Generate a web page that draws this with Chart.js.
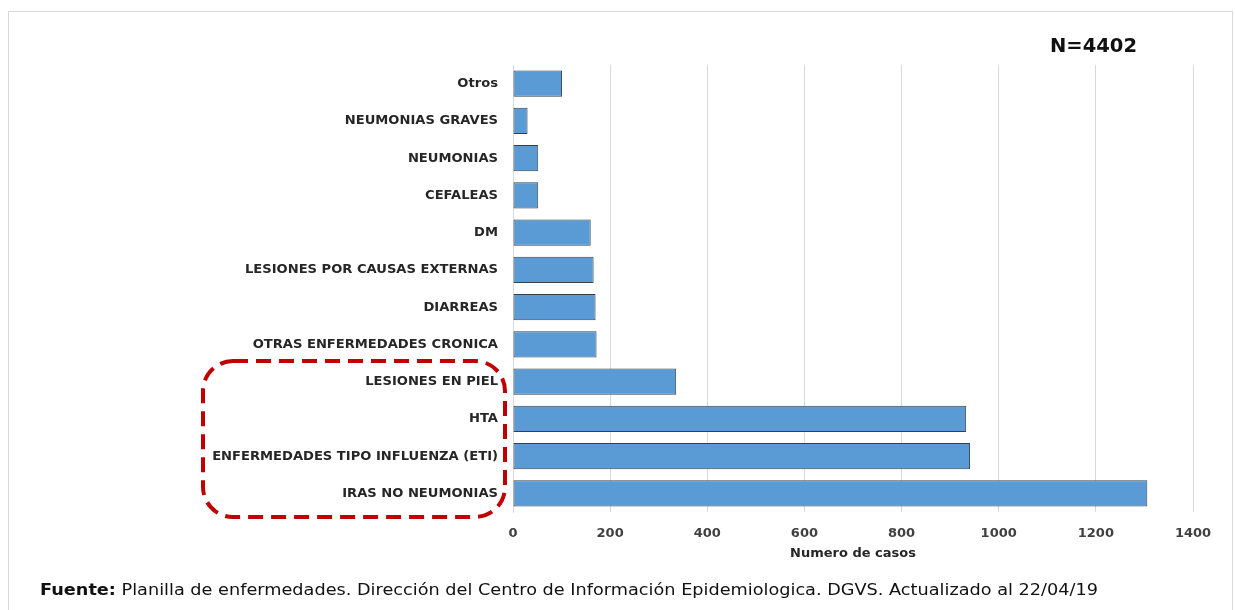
<!DOCTYPE html>
<html><head><meta charset="utf-8">
<script src="https://cdn.jsdelivr.net/npm/chart.js@4.4.0/dist/chart.umd.min.js"></script>
<style>
html,body{margin:0;padding:0;background:#fff;}
#wrap{position:relative;width:1235px;height:610px;overflow:hidden;background:#fff;}
#frame{position:absolute;left:8px;top:11px;width:1225px;height:640px;border:1px solid #d9d9d9;box-sizing:border-box;}
#c{position:absolute;left:0;top:0;}
#n{position:absolute;left:1050px;top:34px;font:bold 19.5px "DejaVu Sans";color:#111;white-space:nowrap;}
#src{position:absolute;left:40px;top:581px;font:15px "DejaVu Sans";color:#111;white-space:nowrap;}
#box{position:absolute;left:0;top:0;}
</style></head>
<body><div id="wrap">
<div id="frame"></div>
<canvas id="c" width="1235" height="610"></canvas>
<div id="n">N=4402</div>
<div id="src"><b>Fuente:</b> Planilla de enfermedades. Dirección del Centro de Información Epidemiologica. DGVS. Actualizado al 22/04/19</div>
<svg id="box" width="1235" height="610"><rect x="203" y="361" width="302" height="156" rx="30" ry="30" fill="none" stroke="#C00000" stroke-width="4" stroke-dasharray="15 8"/></svg>
</div>
<script>
const categories = ["Otros","NEUMONIAS GRAVES","NEUMONIAS","CEFALEAS","DM","LESIONES POR CAUSAS EXTERNAS","DIARREAS","OTRAS ENFERMEDADES CRONICA","LESIONES EN PIEL","HTA","ENFERMEDADES TIPO INFLUENZA (ETI)","IRAS NO NEUMONIAS"];
const casos = [101,30,52,52,160,166,170,172,336,933,941,1306];
const xTickMin = 0;
const xTickMax = 1400;
const xTickStep = 200;
const xTitle = "Numero de casos";

new Chart(document.getElementById('c'), {
  type: 'bar',
  data: {
    labels: categories,
    datasets: [{
      data: casos,
      backgroundColor: '#5B9BD5',
      borderColor: '#34404c',
      borderWidth: 1,
      borderSkipped: false,
      categoryPercentage: 1,
      barPercentage: 0.7
    }]
  },
  options: {
    indexAxis: 'y',
    responsive: false,
    animation: false,
    devicePixelRatio: 1,
    layout: { padding: { top: 65, right: 42, left: 0, bottom: 40 } },
    plugins: { legend: { display: false }, tooltip: { enabled: false }, title: { display: false } },
    scales: {
      x: {
        min: xTickMin, max: xTickMax,
        ticks: { stepSize: xTickStep, color: '#404040', padding: 14, font: { family: 'DejaVu Sans', weight: 'bold', size: 13 }, callback: (v) => String(v) },
        grid: { color: '#d9d9d9', drawTicks: false },
        border: { display: false },
        title: { display: true, text: xTitle, color: '#262626', font: { family: 'DejaVu Sans', weight: 'bold', size: 13 }, padding: { top: 0, bottom: 9 } },
        afterFit: (s) => { s.height = 58; }
      },
      y: {
        ticks: { color: '#262626', padding: 15, font: { family: 'DejaVu Sans', weight: 'bold', size: 13.1 } },
        grid: { display: false, drawTicks: false },
        border: { display: true, color: '#d9d9d9' },
        afterFit: (s) => { s.width = 513; }
      }
    }
  }
});

function fitWidth(id, w) {
  const el = document.getElementById(id);
  const r = el.getBoundingClientRect().width;
  el.style.transformOrigin = '0 0';
  el.style.transform = 'scaleX(' + (w / r) + ')';
}
fitWidth('n', 87);
fitWidth('src', 1058);
</script>
</body></html>
